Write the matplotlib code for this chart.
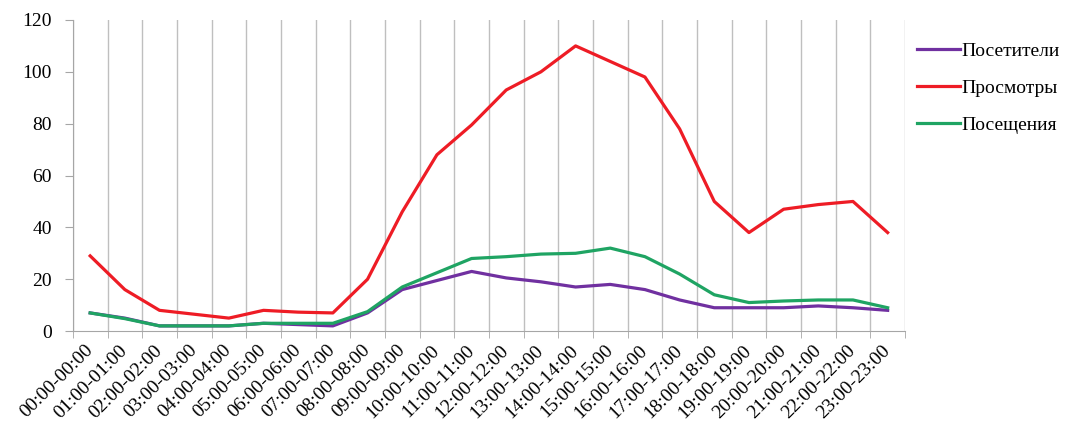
import matplotlib.pyplot as plt
import numpy as np

# данные по часам
hours = ["00:00-00:00", "01:00-01:00", "02:00-02:00", "03:00-03:00", "04:00-04:00",
         "05:00-05:00", "06:00-06:00", "07:00-07:00", "08:00-08:00", "09:00-09:00",
         "10:00-10:00", "11:00-11:00", "12:00-12:00", "13:00-13:00", "14:00-14:00",
         "15:00-15:00", "16:00-16:00", "17:00-17:00", "18:00-18:00", "19:00-19:00",
         "20:00-20:00", "21:00-21:00", "22:00-22:00", "23:00-23:00"]
posetiteli = [7, 5, 2, 2, 2, 3, 2.5, 2, 7, 16, 19.5, 23, 20.5, 19, 17, 18, 16, 12, 9, 9, 9, 9.7, 9, 8]
prosmotry = [29, 16, 8, 6.5, 5, 8, 7.3, 7, 20, 46, 68, 79.5, 93, 100, 110, 104, 98, 78, 50, 38, 47, 48.8, 50, 38]
poseshcheniya = [7, 4.8, 2, 2, 2, 3, 3, 3, 7.5, 17, 22.5, 28, 28.7, 29.7, 30, 32, 28.7, 22, 14, 11, 11.6, 12, 12, 9]

plt.rcParams['font.family'] = ['Liberation Serif', 'DejaVu Serif']

fig = plt.figure(figsize=(10.71, 4.25), dpi=100)
ax = fig.add_axes([0.068, 0.221, 0.777, 0.732])

x = np.arange(len(hours))
ax.plot(x, posetiteli, color="#7030A0", lw=2.3, label="Посетители")
ax.plot(x, prosmotry, color="#EE1C25", lw=2.3, label="Просмотры")
ax.plot(x, poseshcheniya, color="#1FA463", lw=2.3, label="Посещения")

ax.set_xlim(-0.5, len(hours) - 0.5)
ax.set_ylim(0, 120)
ax.set_yticks(range(0, 121, 20))

# подписи по центру, сетка и риски на границах категорий
ax.set_xticks(x)
ax.set_xticklabels(hours, rotation=45, ha="right", va="center",
                   rotation_mode="anchor", fontsize=14)
ax.tick_params(axis="x", which="major", length=0, pad=12)
ax.set_xticks(np.arange(-0.5, len(hours)), minor=True)
ax.tick_params(axis="x", which="minor", length=5, color="#A6A6A6")
ax.grid(True, axis="x", which="minor", color="#BFBFBF", lw=1)
ax.tick_params(axis="y", length=6, pad=9, color="#A6A6A6", labelsize=14)

for s in ["top", "right"]:
    ax.spines[s].set_visible(False)
for s in ["left", "bottom"]:
    ax.spines[s].set_color("#A6A6A6")

fig.legend(loc="upper left", bbox_to_anchor=(0.840, 0.941), frameon=False,
           fontsize=14, handlelength=2.2, handletextpad=0.1, labelspacing=1.0)

plt.savefig("out.png")
